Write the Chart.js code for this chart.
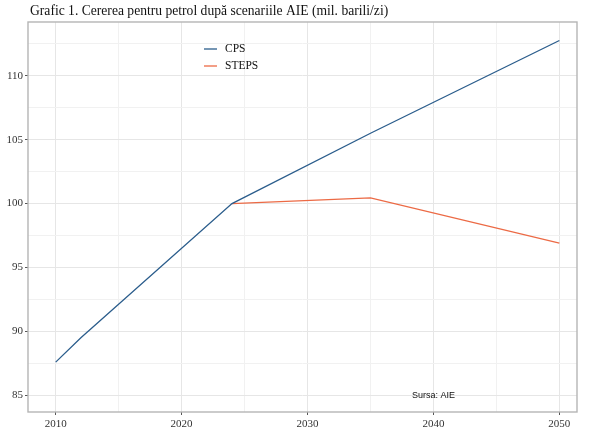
<!DOCTYPE html>
<html>
<head>
<meta charset="utf-8">
<script src="https://cdn.jsdelivr.net/npm/chart.js@4/dist/chart.umd.min.js"></script>
<style>
  html, body { margin: 0; padding: 0; background: #fff; }
  #wrap { width: 600px; height: 446px; position: relative; }
</style>
</head>
<body>
<div id="wrap"><canvas id="oilChart"></canvas></div>
<script>
// Cererea pentru petrol (mil. barili/zi), scenarii AIE
const title = 'Grafic 1. Cererea pentru petrol după scenariile AIE (mil. barili/zi)';
const source = 'Sursa: AIE';

const cpsYears = [2010, 2012, 2024, 2035, 2050];
const cpsValues = [87.6, 89.5, 100.0, 105.5, 112.75];
const stepsYears = [2024, 2035, 2050];
const stepsValues = [100.0, 100.45, 96.9];

const xTicks = [2010, 2015, 2020, 2025, 2030, 2035, 2040, 2045, 2050];
const yTicks = [85, 87.5, 90, 92.5, 95, 97.5, 100, 102.5, 105, 107.5, 110, 112.5];

const serif = '"Liberation Serif", "DejaVu Serif", serif';

const panelPlugin = {
    id: 'panel',
    afterDraw(chart) {
        const { ctx, chartArea: a, scales } = chart;
        ctx.save();
        // panel border
        ctx.strokeStyle = '#b5b5b5';
        ctx.lineWidth = 1.4;
        ctx.strokeRect(a.left, a.top, a.right - a.left, a.bottom - a.top);

        // title
        ctx.fillStyle = '#111';
        ctx.font = '13.6px ' + serif;
        ctx.textBaseline = 'alphabetic';
        ctx.textAlign = 'left';
        ctx.fillText(title, 30, 15);

        // source note
        ctx.font = '9px "Liberation Sans", Arial, sans-serif';
        ctx.textAlign = 'center';
        ctx.textBaseline = 'middle';
        ctx.fillText(source, scales.x.getPixelForValue(2040), scales.y.getPixelForValue(85));

        // legend
        ctx.font = '11.5px ' + serif;
        ctx.textAlign = 'left';
        chart.data.datasets.forEach((ds, i) => {
            const y = 49 + i * 17;
            ctx.strokeStyle = ds.borderColor;
            ctx.lineWidth = 1.3;
            ctx.beginPath();
            ctx.moveTo(204, y);
            ctx.lineTo(217, y);
            ctx.stroke();
            ctx.fillStyle = '#111';
            ctx.fillText(ds.label, 225, y);
        });
        ctx.restore();
    }
};

const isMajor = v => v % 5 === 0;

new Chart(document.getElementById('oilChart'), {
    type: 'line',
    data: {
        datasets: [{
            label: 'CPS',
            data: cpsYears.map((x, i) => ({ x, y: cpsValues[i] })),
            borderColor: '#2b5d8c',
            borderWidth: 1.3,
            pointRadius: 0,
            tension: 0
        }, {
            label: 'STEPS',
            data: stepsYears.map((x, i) => ({ x, y: stepsValues[i] })),
            borderColor: '#ec6a45',
            borderWidth: 1.3,
            pointRadius: 0,
            tension: 0
        }]
    },
    options: {
        responsive: true,
        maintainAspectRatio: false,
        animation: false,
        layout: { padding: { top: 22, right: 23, bottom: 0, left: 0 } },
        plugins: { legend: { display: false }, tooltip: { enabled: false } },
        scales: {
            x: {
                type: 'linear',
                min: 2007.8,
                max: 2051.4,
                afterBuildTicks: s => { s.ticks = xTicks.map(v => ({ value: v })); },
                afterFit: s => { s.height = 34; },
                ticks: {
                    autoSkip: false,
                    maxRotation: 0,
                    padding: 3,
                    color: '#333',
                    font: { family: serif, size: 11 },
                    callback: v => (v % 10 === 0 ? String(v) : '')
                },
                grid: {
                    color: ctx => (ctx.tick && ctx.tick.value % 10 === 0 ? '#e6e6e6' : '#f1f1f1'),
                    lineWidth: 1,
                    tickLength: 3,
                    tickColor: ctx => (ctx.tick && ctx.tick.value % 10 === 0 ? '#555' : 'rgba(0,0,0,0)')
                },
                border: { display: false }
            },
            y: {
                min: 83.7,
                max: 114.2,
                afterBuildTicks: s => { s.ticks = yTicks.map(v => ({ value: v })); },
                afterFit: s => { s.width = 28; },
                ticks: {
                    autoSkip: false,
                    padding: 2,
                    color: '#333',
                    font: { family: serif, size: 11 },
                    callback: v => (isMajor(v) ? String(v) : '')
                },
                grid: {
                    color: ctx => (ctx.tick && isMajor(ctx.tick.value) ? '#e6e6e6' : '#f1f1f1'),
                    lineWidth: 1,
                    tickLength: 3,
                    tickColor: ctx => (ctx.tick && isMajor(ctx.tick.value) ? '#555' : 'rgba(0,0,0,0)')
                },
                border: { display: false }
            }
        }
    },
    plugins: [panelPlugin]
});
</script>
</body>
</html>
